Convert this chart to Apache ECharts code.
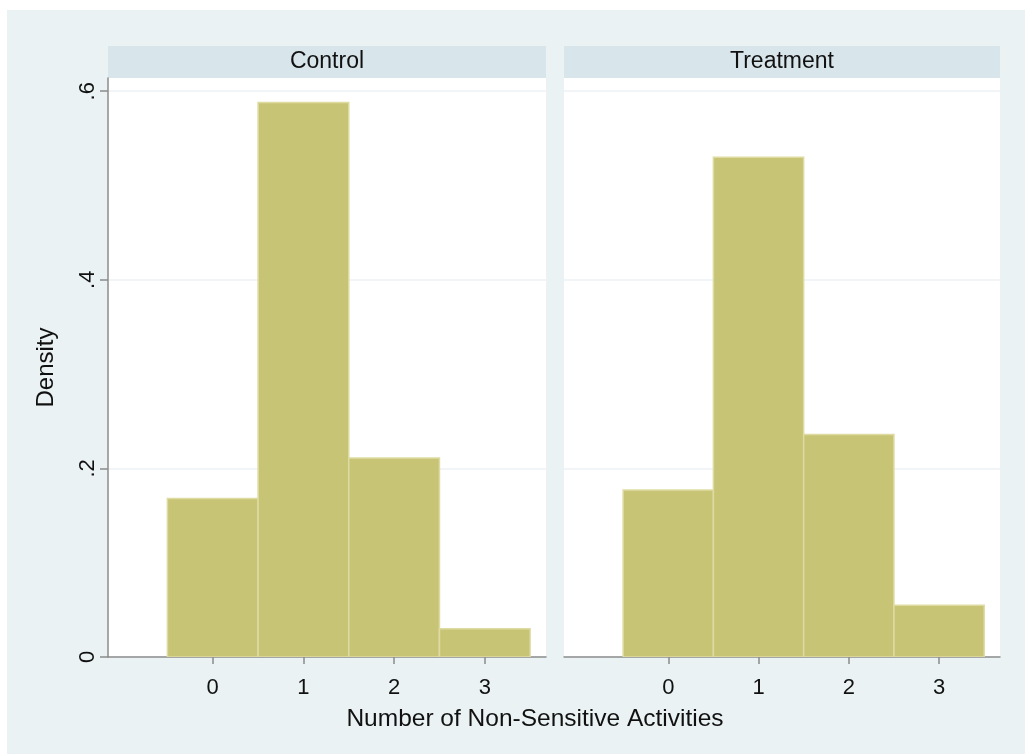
<!DOCTYPE html>
<html>
<head>
<meta charset="utf-8">
<script src="https://cdn.jsdelivr.net/npm/echarts@6/dist/echarts.min.js"></script>
<style>
html,body{margin:0;padding:0;background:#fff;}
#chart{width:1025px;height:754px;}
</style>
</head>
<body>
<div id="chart"></div>
<script>
var categories = [0, 1, 2, 3];
var controlDensity = [0.168, 0.588, 0.211, 0.030];
var treatmentDensity = [0.177, 0.530, 0.236, 0.055];
var yTicks = [0, 0.2, 0.4, 0.6];
var yTickLabels = ['0', '.2', '.4', '.6'];
var panelTitles = ['Control', 'Treatment'];
var xTitle = 'Number of Non-Sensitive Activities';
var yTitle = 'Density';

var FONT = '"Liberation Sans", Arial, Helvetica, sans-serif';
var barColor = '#c8c475';
var barEdge = '#dedba2';
var axisGray = '#8c8c8c';
var gridColor = '#edf2f4';

function pairs(vals) {
  return categories.map(function (c, i) { return [c, vals[i]]; });
}

function renderBin(params, api) {
  var x = api.value(0), y = api.value(1);
  var p0 = api.coord([x - 0.5, y]);
  var p1 = api.coord([x + 0.5, 0]);
  return {
    type: 'rect',
    shape: { x: p0[0], y: p0[1], width: p1[0] - p0[0], height: p1[1] - p0[1] },
    style: { fill: barColor, stroke: barEdge, lineWidth: 1.5 }
  };
}

var grids = [
  { left: 108, top: 78, width: 438, height: 579, show: true, backgroundColor: '#ffffff', borderWidth: 0 },
  { left: 564, top: 78, width: 436, height: 579, show: true, backgroundColor: '#ffffff', borderWidth: 0 }
];

function xAxisFor(i) {
  return {
    type: 'value', gridIndex: i, min: -1.155, max: 3.675,
    axisLine: { show: true, lineStyle: { color: axisGray, width: 1.5 } },
    axisTick: { show: true, length: 7, lineStyle: { color: axisGray, width: 1.5 }, customValues: categories },
    axisLabel: { show: true, customValues: categories, color: '#111', fontFamily: FONT, fontSize: 22, margin: 20 },
    splitLine: { show: false }
  };
}

function yAxisFor(i) {
  return {
    type: 'value', gridIndex: i, min: 0, max: 0.614,
    axisLine: { show: i === 0, onZero: false, lineStyle: { color: axisGray, width: 1.5 } },
    axisTick: { show: i === 0, length: 8, lineStyle: { color: axisGray, width: 1.5 }, customValues: yTicks },
    axisLabel: {
      show: i === 0, customValues: yTicks, rotate: 90, color: '#111', fontFamily: FONT, fontSize: 22, margin: 9,
      formatter: function (v) {
        var k = yTicks.indexOf(v);
        return k >= 0 ? yTickLabels[k] : '';
      }
    },
    splitLine: { show: true, lineStyle: { color: gridColor, width: 1.5 } },
    name: i === 0 ? yTitle : '',
    nameLocation: 'middle', nameRotate: 90, nameGap: 50,
    nameTextStyle: { color: '#111', fontFamily: FONT, fontSize: 24 }
  };
}

var chart = echarts.init(document.getElementById('chart'), null, { renderer: 'canvas' });
chart.setOption({
  backgroundColor: '#ffffff',
  animation: false,
  graphic: [
    { type: 'rect', z: -10, silent: true, shape: { x: 7, y: 10, width: 1018, height: 744 }, style: { fill: '#eaf2f3' } },
    { type: 'rect', z: -5, silent: true, shape: { x: 108, y: 46, width: 438, height: 32 }, style: { fill: '#d8e5eb' } },
    { type: 'rect', z: -5, silent: true, shape: { x: 564, y: 46, width: 436, height: 32 }, style: { fill: '#d8e5eb' } },
    { type: 'text', x: 327, y: 62, style: { text: panelTitles[0], fill: '#111', font: '23px ' + FONT, align: 'center', verticalAlign: 'middle' } },
    { type: 'text', x: 782, y: 62, style: { text: panelTitles[1], fill: '#111', font: '23px ' + FONT, align: 'center', verticalAlign: 'middle' } },
    { type: 'text', x: 535, y: 719, style: { text: xTitle, fill: '#111', font: '24.5px ' + FONT, align: 'center', verticalAlign: 'middle' } }
  ],
  grid: grids,
  xAxis: [xAxisFor(0), xAxisFor(1)],
  yAxis: [yAxisFor(0), yAxisFor(1)],
  series: [
    { type: 'custom', xAxisIndex: 0, yAxisIndex: 0, renderItem: renderBin, data: pairs(controlDensity), encode: { x: 0, y: 1 }, clip: true },
    { type: 'custom', xAxisIndex: 1, yAxisIndex: 1, renderItem: renderBin, data: pairs(treatmentDensity), encode: { x: 0, y: 1 }, clip: true }
  ]
});
</script>
</body>
</html>
